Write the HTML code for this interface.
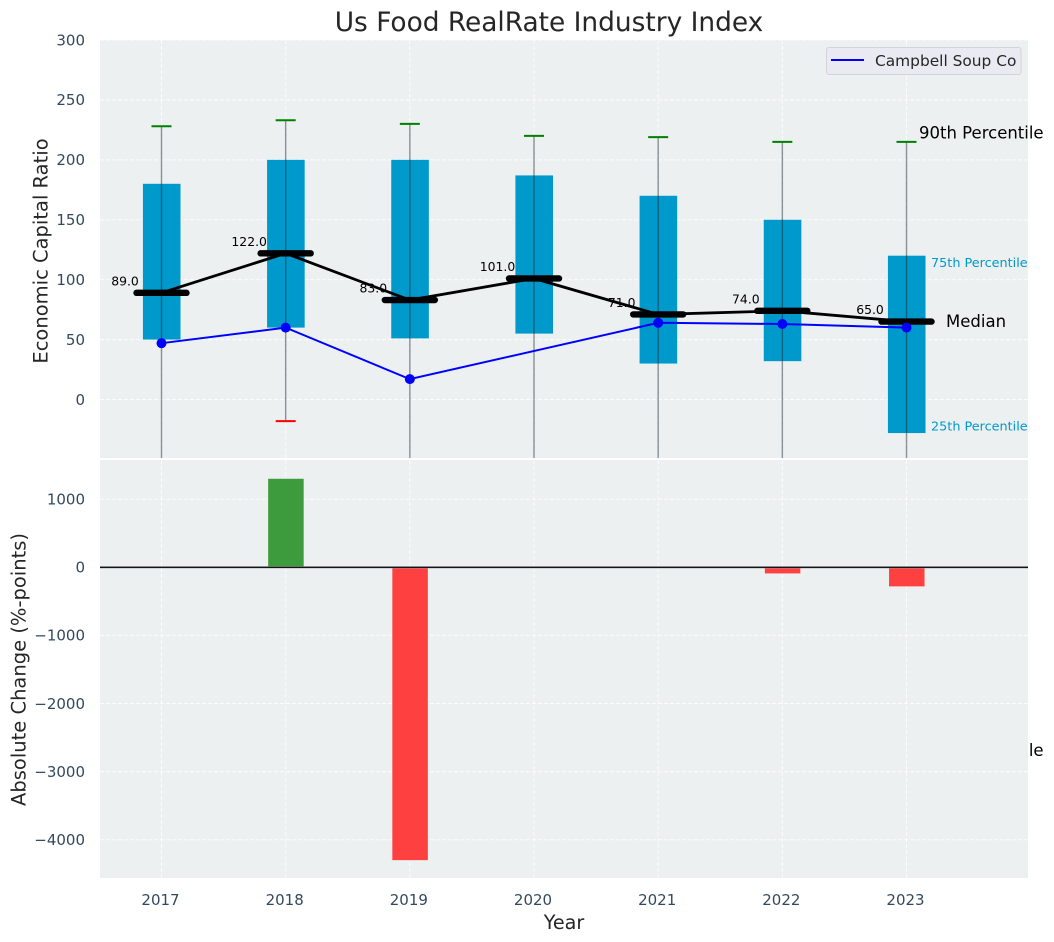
<!DOCTYPE html>
<html lang="en">
<head>
<meta charset="utf-8">
<title>Us Food RealRate Industry Index</title>
<style>
html,body{margin:0;padding:0;background:#fff;width:1054px;height:942px;overflow:hidden}
svg{display:block;font-family:"DejaVu Sans","Liberation Sans",sans-serif}
</style>
</head>
<body>
<svg id="chart" xmlns="http://www.w3.org/2000/svg" width="1054" height="942" viewBox="0 0 1054 942">
<defs>
<clipPath id="top-clip"><rect x="100" y="40" width="928" height="418"/></clipPath>
</defs>
<text x="549" y="31" text-anchor="middle" font-size="26.4" fill="#262626">Us Food RealRate Industry Index</text>
<g id="layer-root"></g>
</svg>
<script>
const years = [2017, 2018, 2019, 2020, 2021, 2022, 2023];
const q75 = [180, 200, 200, 187, 170, 150, 120];
const q25 = [50, 60, 51, 55, 30, 32, -28];
const p90 = [228, 233, 230, 220, 219, 215, 215];
const p10 = [-100, -18, -100, -100, -100, -100, -100];
const medians = [89, 122, 83, 101, 71, 74, 65];
const campbell = [47, 60, 17, null, 64, 63, 60];
const changes = [0, 1300, -4300, 0, 0, -90, -280];
const topTicks = [0, 50, 100, 150, 200, 250, 300];
const bottomTicks = [1000, 0, -1000, -2000, -3000, -4000];

const NS = 'http://www.w3.org/2000/svg';
const root = document.getElementById('layer-root');
const xScale = function (yr) { return 161.5 + 124.17 * (yr - 2017); };
const yTop = function (v) { return 399.5 - 1.1983 * v; };
const yBottom = function (v) { return 567.3 - 0.0681 * v; };

function make(tag, attrs, parent) {
  const el = document.createElementNS(NS, tag);
  for (const k in attrs) el.setAttribute(k, attrs[k]);
  (parent || root).appendChild(el);
  return el;
}
function label(txt, attrs, parent) {
  const el = make('text', attrs, parent);
  el.textContent = txt;
  return el;
}
function gridStyle() {
  return { stroke: '#ffffff', 'stroke-width': 1, 'stroke-dasharray': '4 2', 'stroke-opacity': 0.8 };
}
function fmtTick(v) { return v < 0 ? '\u2212' + Math.abs(v) : String(v); }

/* Top panel background */
const topBg = make('rect', { x: 100, y: 40, width: 928, height: 418, fill: '#ecf0f1' });



/* Top grid */
years.forEach(function (yr) {
  const g = make('line', Object.assign({ x1: xScale(yr), x2: xScale(yr), y1: 40, y2: 458 }, gridStyle()));
  
  
});
topTicks.forEach(function (v) {
  const g = make('line', Object.assign({ x1: 100, x2: 1028, y1: yTop(v), y2: yTop(v) }, gridStyle()));
  
  
  const t = label(fmtTick(v), { x: 85, y: yTop(v) + 5.3, 'text-anchor': 'end', 'font-size': 15, fill: '#34495e' });
  
  
});

/* Percentile boxes */
years.forEach(function (yr, i) {
  const b = make('rect', { x: xScale(yr) - 18.6, y: yTop(q75[i]), width: 37.6, height: yTop(q25[i]) - yTop(q75[i]), fill: '#0099cc' });
  
  
});

/* Median value labels */
years.forEach(function (yr, i) {
  const t = label(medians[i].toFixed(1), { x: xScale(yr) - 36.5, y: yTop(medians[i]) - 7.5, 'text-anchor': 'middle', 'font-size': 12.4, fill: '#000000' });
  
  
});

/* Whiskers and caps */
const clipped = make('g', { 'clip-path': 'url(#top-clip)' });


years.forEach(function (yr, i) {
  const x = xScale(yr);
  const w = make('line', { x1: x, x2: x, y1: yTop(p90[i]), y2: yTop(p10[i]), stroke: '#1c2b33', 'stroke-width': 1.4, 'stroke-opacity': 0.5 }, clipped);
  
  
  const hi = make('line', { x1: x - 10, x2: x + 10, y1: yTop(p90[i]), y2: yTop(p90[i]), stroke: '#008000', 'stroke-width': 2 }, clipped);
  
  
  const lo = make('line', { x1: x - 10, x2: x + 10, y1: yTop(p10[i]), y2: yTop(p10[i]), stroke: '#ff0000', 'stroke-width': 2 }, clipped);
  
  
});

/* Median connector line and bars */
const medLine = make('polyline', {
  points: years.map(function (yr, i) { return xScale(yr) + ',' + yTop(medians[i]); }).join(' '),
  fill: 'none', stroke: '#000000', 'stroke-width': 2.8
});


years.forEach(function (yr, i) {
  const m = make('line', { x1: xScale(yr) - 25, x2: xScale(yr) + 25, y1: yTop(medians[i]), y2: yTop(medians[i]), stroke: '#000000', 'stroke-width': 6.4, 'stroke-linecap': 'round' });
  
  
});

/* Campbell series */
const blue = make('polyline', {
  points: years.map(function (yr, i) { return campbell[i] === null ? null : xScale(yr) + ',' + yTop(campbell[i]); }).filter(Boolean).join(' '),
  fill: 'none', stroke: '#0000ff', 'stroke-width': 2
});


years.forEach(function (yr, i) {
  if (campbell[i] === null) return;
  const c = make('circle', { cx: xScale(yr), cy: yTop(campbell[i]), r: 5, fill: '#0000ff' });
  
  
});

/* Annotations for the last year */
const lastX = xScale(years[years.length - 1]);
const a90 = label('90th Percentile', { x: lastX + 12.5, y: yTop(p90[6]) - 3.5, 'font-size': 16.5, fill: '#000000' });


const aMed = label('Median', { x: lastX + 39.5, y: yTop(medians[6]) + 5.5, 'font-size': 16.5, fill: '#000000' });


const a75 = label('75th Percentile', { x: lastX + 24.5, y: yTop(q75[6]) + 11.5, 'font-size': 12.8, fill: '#0099cc' });


const a25 = label('25th Percentile', { x: lastX + 24.5, y: yTop(q25[6]) - 2.5, 'font-size': 12.8, fill: '#0099cc' });


/* 10th percentile note runs under the lower panel; only its tail stays visible */
const a10 = label('10th Percentile', { x: lastX + 12.5, y: 756, 'font-size': 16.5, fill: '#000000' });



/* Legend */
const legendBox = make('rect', { x: 826.5, y: 47.5, width: 194.5, height: 27, rx: 2.5, fill: '#eaeaf2', stroke: '#d2d4d8', 'stroke-width': 1 });


const legendLine = make('line', { x1: 831, x2: 864, y1: 60, y2: 60, stroke: '#0000ff', 'stroke-width': 2 });


const legendText = label('Campbell Soup Co', { x: 875, y: 66, 'font-size': 15.4, fill: '#262626' });



/* Bottom panel */
const botBg = make('rect', { x: 100, y: 460, width: 928, height: 418, fill: '#ecf0f1' });


years.forEach(function (yr) {
  const g = make('line', Object.assign({ x1: xScale(yr), x2: xScale(yr), y1: 460, y2: 878 }, gridStyle()));
  
  
  const t = label(String(yr), { x: xScale(yr) - 1, y: 905, 'text-anchor': 'middle', 'font-size': 15, fill: '#34495e' });
  
  
});
bottomTicks.forEach(function (v) {
  if (v !== 0) {
    const g = make('line', Object.assign({ x1: 100, x2: 1028, y1: yBottom(v), y2: yBottom(v) }, gridStyle()));
    
    
  }
  const t = label(fmtTick(v), { x: 85, y: yBottom(v) + 5.3, 'text-anchor': 'end', 'font-size': 15, fill: '#34495e' });
  
  
});
years.forEach(function (yr, i) {
  if (changes[i] === 0) return;
  const y0 = yBottom(Math.max(changes[i], 0));
  const y1 = yBottom(Math.min(changes[i], 0));
  const b = make('rect', { x: xScale(yr) - 17.5, y: y0, width: 35.5, height: y1 - y0, fill: changes[i] > 0 ? '#3d9b3d' : '#ff4040' });
  
  
});
const zeroHalo = make('line', { x1: 100, x2: 1028, y1: yBottom(0), y2: yBottom(0), stroke: '#9aa0a3', 'stroke-width': 2.2 });


const zeroLine = make('line', { x1: 100, x2: 1028, y1: yBottom(0), y2: yBottom(0), stroke: '#000000', 'stroke-width': 1.2 });



/* Axis titles */
const yt1 = label('Economic Capital Ratio', { x: 0, y: 0, 'text-anchor': 'middle', 'font-size': 19.5, fill: '#262626', transform: 'translate(47.5,251) rotate(-90)' });


const yt2 = label('Absolute Change (%-points)', { x: 0, y: 0, 'text-anchor': 'middle', 'font-size': 19.5, fill: '#262626', transform: 'translate(25.5,669.5) rotate(-90)' });


const xt = label('Year', { x: 564, y: 929, 'text-anchor': 'middle', 'font-size': 19.2, fill: '#262626' });


</script>
</body>
</html>
